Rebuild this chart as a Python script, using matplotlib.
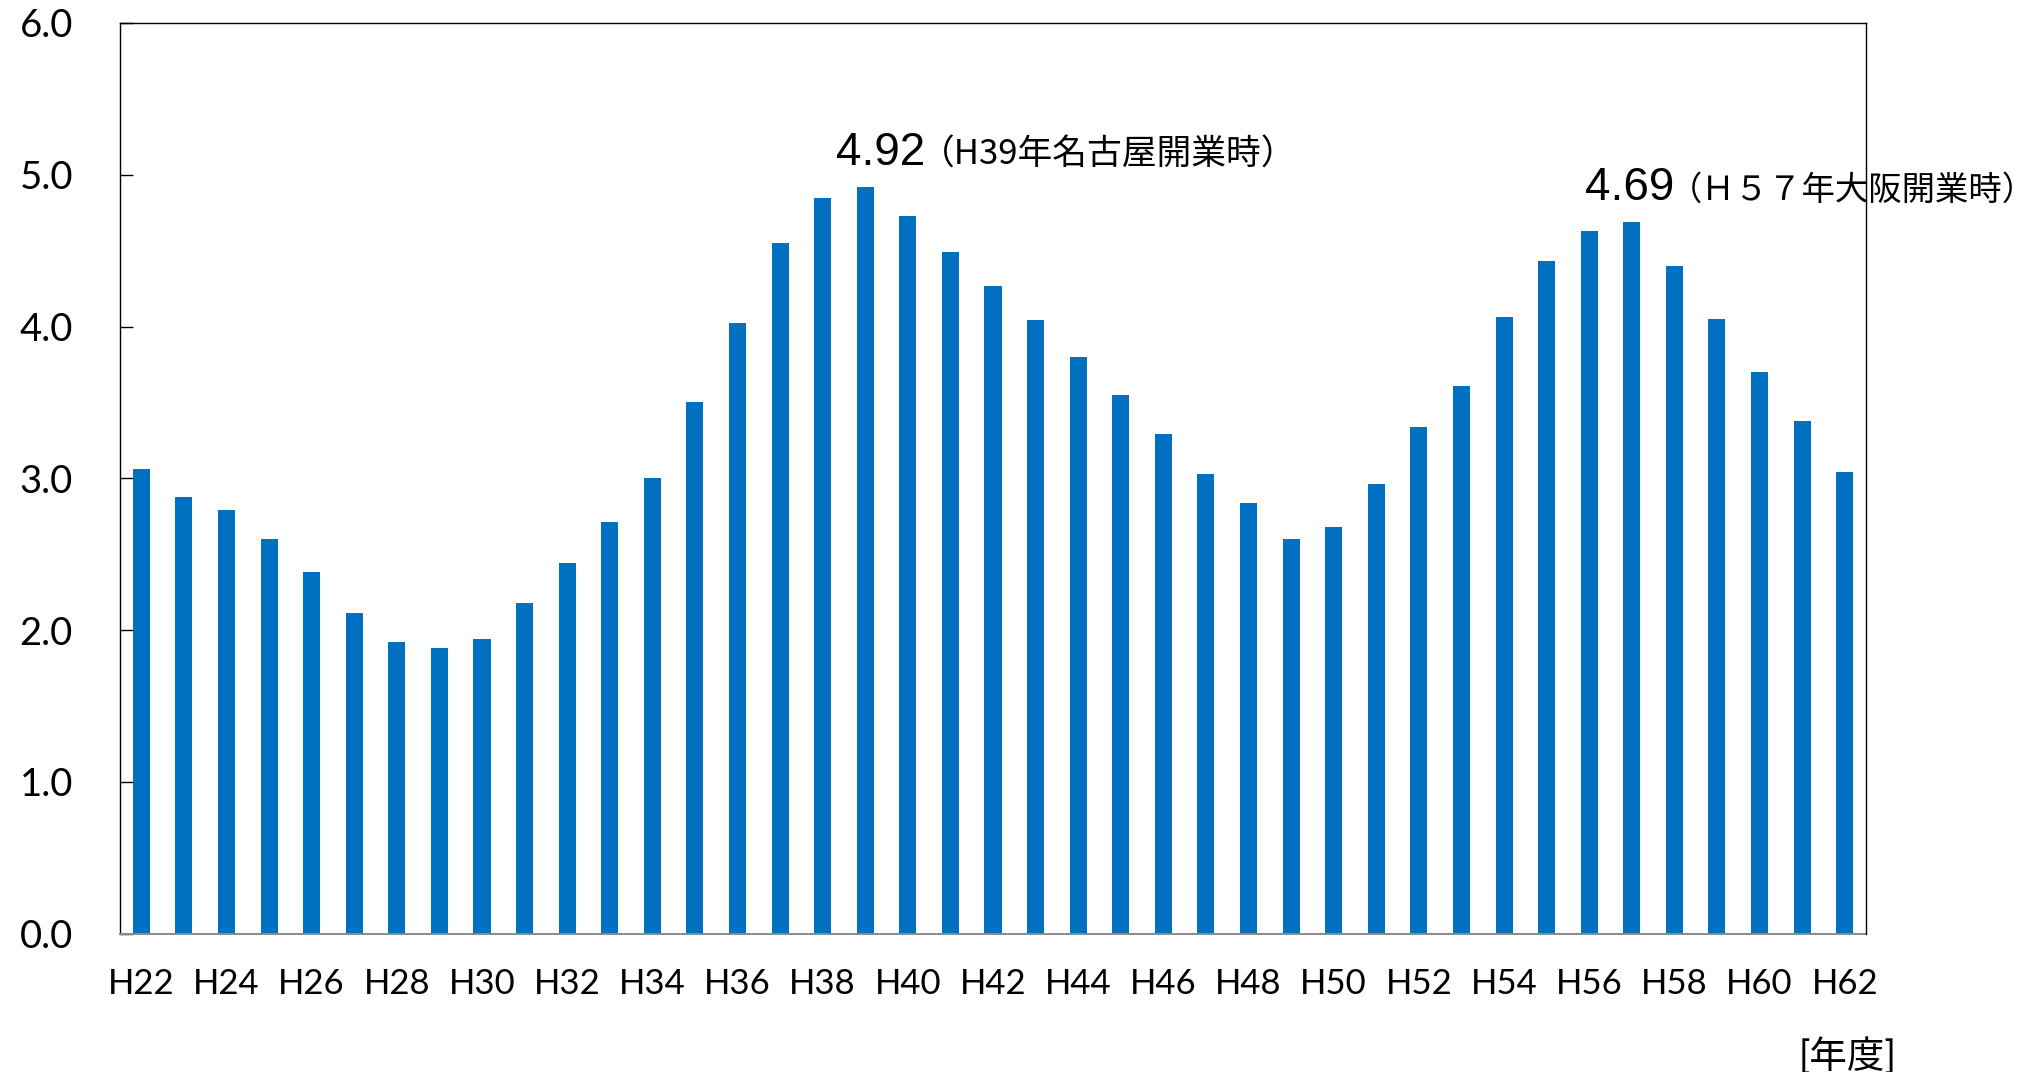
import matplotlib
matplotlib.use("Agg")
import matplotlib.pyplot as plt

# fiscal years H22..H62
years = ["H%d" % y for y in range(22, 63)]
values = [3.06, 2.88, 2.79, 2.60, 2.38, 2.11, 1.92, 1.88, 1.94, 2.18,
          2.44, 2.71, 3.00, 3.50, 4.02, 4.55, 4.85, 4.92, 4.73, 4.49,
          4.27, 4.04, 3.80, 3.55, 3.29, 3.03, 2.84, 2.60, 2.68, 2.96,
          3.34, 3.61, 4.06, 4.43, 4.63, 4.69, 4.40, 4.05, 3.70, 3.38,
          3.04]
yticks = [0.0, 1.0, 2.0, 3.0, 4.0, 5.0, 6.0]

# peak annotations: (year, number text, note text)
peaks = [("H39", "4.92", "（H39年名古屋開業時）"),
         ("H57", "4.69", "（Ｈ５７年大阪開業時）")]

fig = plt.figure(figsize=(20.38, 10.72), dpi=100)
ax = fig.add_axes([0.0589, 0.129, 0.8567, 0.8496])

x = list(range(len(years)))
ax.bar(x, values, width=0.4, color="#0070C0", zorder=2)

ax.set_xlim(-0.5, len(years) - 0.5)
ax.set_ylim(0, 6)
ax.set_yticks(yticks)
ax.set_yticklabels(["%.1f" % t for t in yticks], fontsize=27.5, family="Lato")
ax.set_xticks(x[::2])
ax.set_xticklabels(years[::2], fontsize=25, family="Lato")
ax.tick_params(axis="x", length=0, pad=24.5)
ax.tick_params(axis="y", direction="in", length=9.5, width=1.0, pad=34)

for side in ["left", "top", "right"]:
    ax.spines[side].set_color("black")
    ax.spines[side].set_linewidth(1.0)
ax.spines["bottom"].set_color("#8a8a8a")
ax.spines["bottom"].set_linewidth(1.4)
ax.spines["right"].set_zorder(5)

# peak labels: big number, then note in CJK font right after it
offsets = {"H39": -0.69, "H57": -1.11}
note_sizes = {"H39": 25, "H57": 24}
fig.canvas.draw()
renderer = fig.canvas.get_renderer()
for yr, num, note in peaks:
    i = years.index(yr)
    t = ax.text(i + offsets[yr], values[i] + 0.145, num, fontsize=33,
                family="Liberation Sans", ha="left", va="baseline", zorder=1)
    bb = t.get_window_extent(renderer=renderer)
    x_end = ax.transData.inverted().transform((bb.x1, bb.y0))[0]
    ax.text(x_end - 0.12, values[i] + 0.145, note, fontsize=note_sizes[yr],
            family=["Noto Sans CJK JP"], ha="left", va="baseline",
            zorder=1, clip_on=False)

fig.text(1848 / 2038, 1 - 1056 / 1072, "[年度]", fontsize=27,
         family=["Lato", "Noto Sans CJK JP"], ha="center", va="center")

fig.savefig("out.png", dpi=100)
